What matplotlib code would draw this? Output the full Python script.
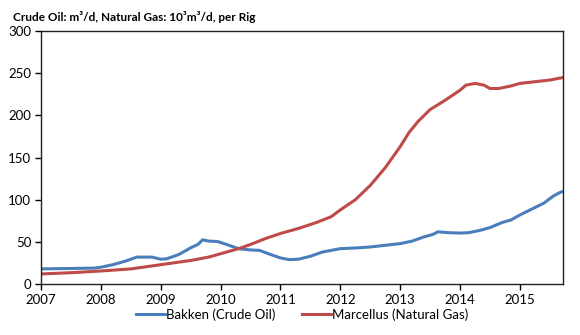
import matplotlib
matplotlib.use("Agg")
import matplotlib.pyplot as plt

# values (decimal years)
bakken_x = [2007.0, 2007.5, 2007.9, 2008.0, 2008.2, 2008.4, 2008.6, 2008.85, 2009.0, 2009.1,
            2009.3, 2009.5, 2009.62, 2009.7, 2009.8, 2009.95, 2010.1, 2010.3, 2010.5, 2010.65,
            2010.8, 2011.0, 2011.15, 2011.3, 2011.5, 2011.7, 2011.85, 2012.0, 2012.3, 2012.5,
            2012.75, 2013.0, 2013.2, 2013.4, 2013.55, 2013.63, 2013.8, 2014.0, 2014.15, 2014.35,
            2014.5, 2014.6, 2014.7, 2014.85, 2015.0, 2015.2, 2015.4, 2015.55, 2015.65, 2015.72]
bakken_y = [18, 18.5, 19, 20, 23, 27, 32, 32, 29.5, 30,
            35, 43, 47, 52.5, 51, 50.5, 47, 42, 40.5, 40,
            36, 31, 29, 29.5, 33, 38, 40, 42, 43, 44,
            46, 48, 51, 56, 59, 62, 61, 60.5, 61, 64,
            67, 70, 73, 76, 82, 89, 96, 104, 108, 110]

marcellus_x = [2007.0, 2007.5, 2008.0, 2008.5, 2009.0, 2009.5, 2009.8, 2010.0, 2010.3, 2010.5,
               2010.75, 2011.0, 2011.3, 2011.6, 2011.85, 2012.0, 2012.25, 2012.5, 2012.75, 2013.0,
               2013.15, 2013.3, 2013.5, 2013.75, 2014.0, 2014.1, 2014.25, 2014.4, 2014.5, 2014.65,
               2014.85, 2015.0, 2015.25, 2015.5, 2015.72]
marcellus_y = [12, 13.5, 15.5, 18, 23, 28, 32, 36, 42, 47,
               54, 60, 66, 73, 80, 88, 100, 117, 138, 163,
               180, 193, 207, 218, 230, 236, 238, 236, 232, 232,
               235, 238, 240, 242, 245]

years = list(range(2007, 2016))
y_ticks = [0, 50, 100, 150, 200, 250, 300]

plt.rcParams["font.family"] = ["Lato", "DejaVu Sans"]

fig = plt.figure(figsize=(5.8, 3.35), dpi=100)
ax = fig.add_axes([0.0707, 0.152, 0.9, 0.755])

ax.plot(bakken_x, bakken_y, color="#4A7EBB", lw=2.2, label="Bakken (Crude Oil)")
ax.plot(marcellus_x, marcellus_y, color="#BE4B48", lw=2.2, label="Marcellus (Natural Gas)")

ax.set_xlim(2007, 2015.72)
ax.set_ylim(0, 300)
ax.set_xticks(years)
ax.set_xticklabels([str(y) for y in years])
ax.set_yticks(y_ticks)
ax.tick_params(direction="out", length=4, width=1, labelsize=9.5, pad=3)
for s in ax.spines.values():
    s.set_linewidth(1)
    s.set_color("#222222")

fig.text(0.022, 0.968, "Crude Oil: m³/d, Natural Gas: 10³m³/d, per Rig",
         fontsize=8.5, fontweight="bold", va="top", ha="left")

ax.legend(loc="upper center", bbox_to_anchor=(0.5, -0.095), ncol=2, frameon=False,
          fontsize=9.5, handlelength=2.2, handletextpad=0.1, columnspacing=2.0,
          borderaxespad=0, borderpad=0)

fig.savefig("out.png", dpi=100)
